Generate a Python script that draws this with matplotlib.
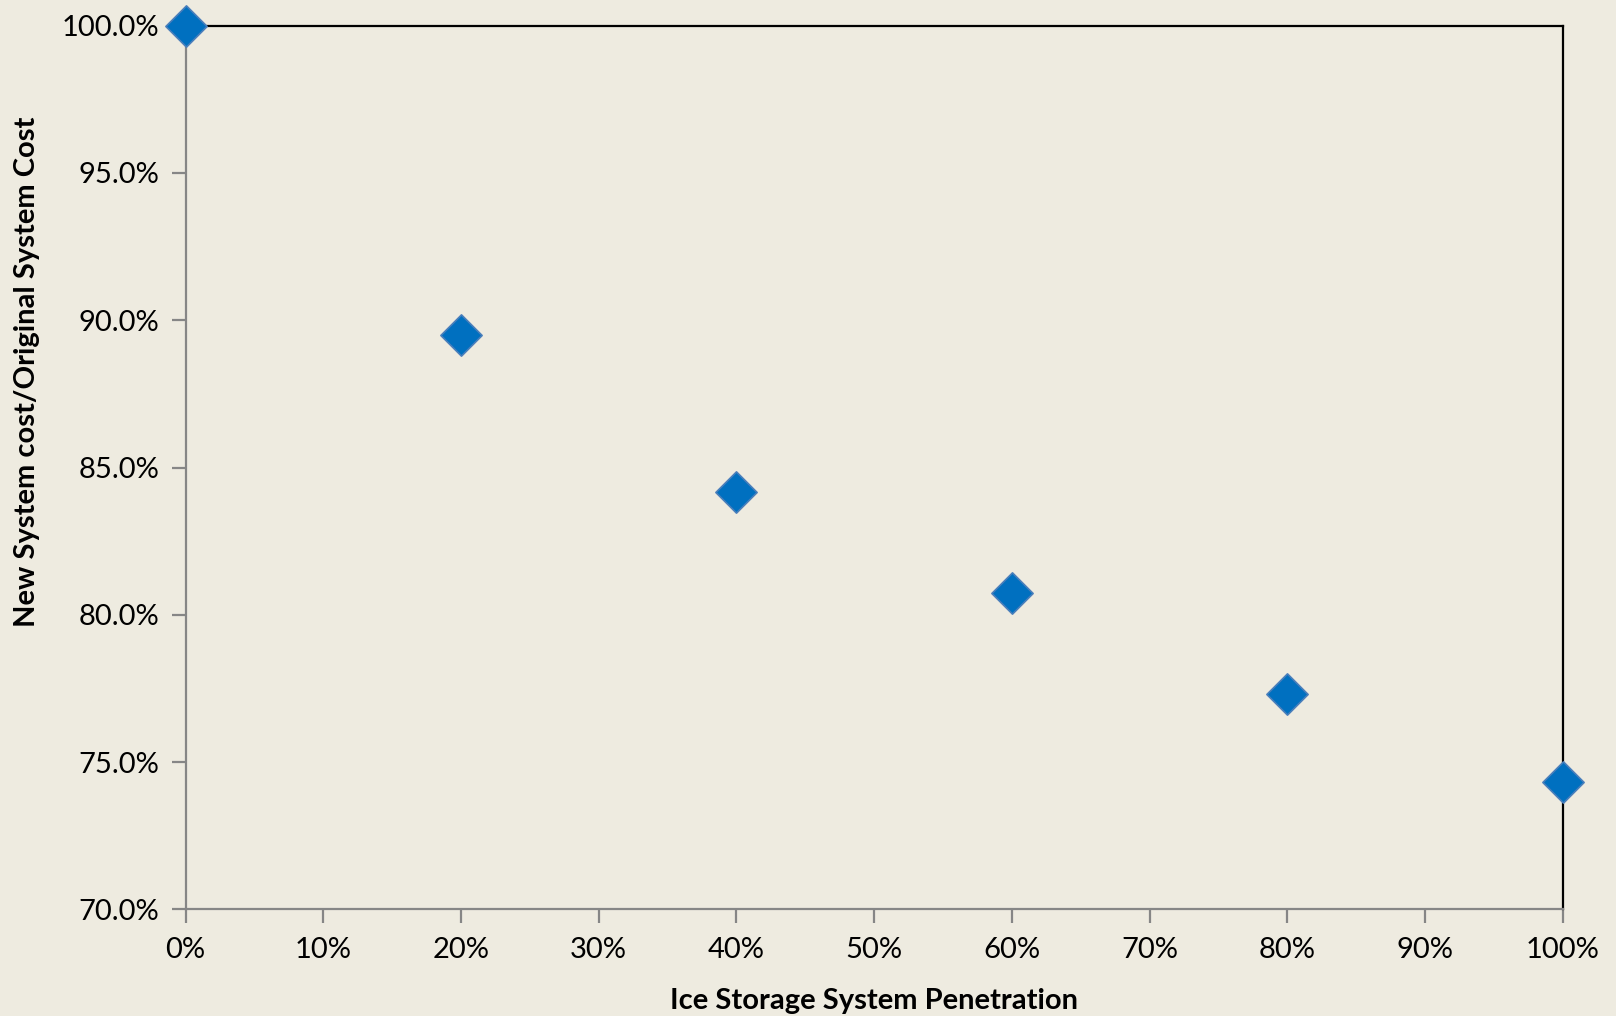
import matplotlib.pyplot as plt
from matplotlib.ticker import FuncFormatter, MultipleLocator

# ice storage penetration (%) vs relative system cost (%)
penetration = [0, 20, 40, 60, 80, 100]
cost_ratio = [100.0, 89.5, 84.18, 80.75, 77.3, 74.33]

bg = "#EEEBE0"
plt.rcParams["font.family"] = ["Lato", "DejaVu Sans"]

fig = plt.figure(figsize=(16.16, 10.16), dpi=100, facecolor=bg)
ax = fig.add_axes([0.1148, 0.105, 0.967 - 0.1148, 0.9747 - 0.105])
ax.set_facecolor(bg)

ax.scatter(penetration, cost_ratio, marker="D", s=21 ** 2, color="#0070C0",
           edgecolors="#4A7EBB", linewidths=1.2, zorder=5, clip_on=False)

ax.set_xlim(0, 100)
ax.set_ylim(70, 100)
ax.xaxis.set_major_locator(MultipleLocator(10))
ax.yaxis.set_major_locator(MultipleLocator(5))
ax.xaxis.set_major_formatter(FuncFormatter(lambda v, _: f"{v:.0f}%"))
ax.yaxis.set_major_formatter(FuncFormatter(lambda v, _: f"{v:.1f}%"))

for side in ("left", "bottom"):
    ax.spines[side].set_color("#868686")
    ax.spines[side].set_linewidth(1.6)
for side in ("top", "right"):
    ax.spines[side].set_color("black")
    ax.spines[side].set_linewidth(1.6)

ax.tick_params(axis="both", direction="out", length=10, width=1.6,
               color="#868686", labelsize=21, labelcolor="black")
ax.tick_params(axis="x", pad=10)
ax.tick_params(axis="y", pad=9)

ax.set_xlabel("Ice Storage System Penetration", fontsize=21,
              fontweight="bold", labelpad=18)
ax.set_ylabel("New System cost/Original System Cost", fontsize=21,
              fontweight="bold", va="center")
ax.yaxis.set_label_coords(-0.1152, 0.608)

fig.savefig("out.png", dpi=100, facecolor=bg)
